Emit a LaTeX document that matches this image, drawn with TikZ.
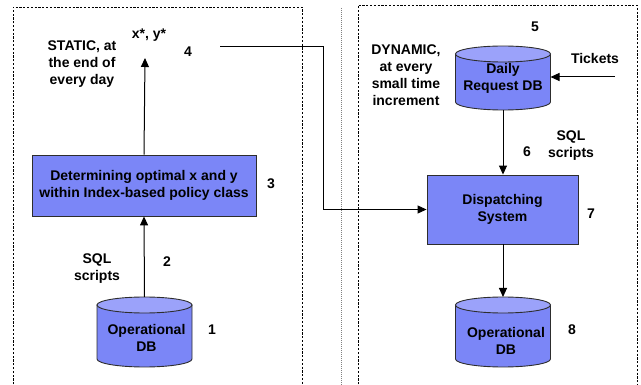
\documentclass[tikz,border=0pt]{standalone}
\usepackage{fontspec}
\setmainfont{Liberation Sans}
\usetikzlibrary{arrows.meta}
\definecolor{boxfill}{RGB}{123,134,247}
\definecolor{topfill}{RGB}{155,162,250}
\definecolor{edge}{RGB}{45,45,45}
\tikzset{
  lbl/.style={font=\fontsize{14}{17}\selectfont\bfseries, align=center, inner sep=0pt},
  procbox/.style={draw=edge, fill=boxfill, line width=0.9pt, align=center,
    font=\fontsize{14}{17}\selectfont\bfseries, inner sep=0pt},
  dbline/.style={draw=edge, line width=0.9pt},
  arr/.style={-{Triangle[length=9pt,width=8pt]}, line width=1pt, draw=black},
  frame/.style={dash pattern=on 2.2pt off 1.6pt, line width=0.8pt},
  sepline/.style={draw=gray, dash pattern=on 1pt off 1pt, line width=0.8pt},
}
% name, cx, cy, w, h, text, text dx, text dy
\newcommand\dbcyl[8]{%
  \draw[dbline, fill=boxfill] ({#2-#4/2},{#3-#5/2+8}) -- ({#2-#4/2},{#3+#5/2-8})
     arc[start angle=180, end angle=0, x radius=#4/2, y radius=8]
     -- ({#2+#4/2},{#3-#5/2+8}) -- cycle;
  \draw[dbline, fill=topfill] (#2,{#3-#5/2+8}) ellipse[x radius=#4/2, y radius=8];
  \node[inner sep=0pt, outer sep=0pt, minimum width=#4pt, minimum height=#5pt,
        label={[lbl, xshift=#7pt, yshift=-#8pt]center:#6}] (#1) at (#2,#3) {};
}
\begin{document}
\begin{tikzpicture}[x=1pt, y=-1pt]
\useasboundingbox (0,0) rectangle (641,385);

% frames
\draw[frame] (13,392) -- (13,7) -- (302,7) -- (302,392);
\draw[sepline] (341,8) -- (341,392);
\draw[frame] (358,392) -- (358,5) -- (637,5) -- (637,392);

% left side
\dbcyl{db1}{144.5}{332}{95}{70}{Operational\\DB}{2}{6}
\node[procbox, minimum width=224pt, minimum height=61pt] (opt) at (144,185.5)
  {Determining optimal x and y\\within Index-based policy class};
\node[lbl] (xy) at (149,35) {x*, y*};
\coordinate (xytip) at (145,58);
\coordinate (xyout) at (220,47);

\node[lbl] (n1) at (212,330) {1};
\node[lbl] (n2) at (167,262) {2};
\node[lbl] (n3) at (271,184) {3};
\node[lbl] (n4) at (188,52) {4};
\node[lbl] (sql1) at (97,269) {SQL\\scripts};
\node[lbl] (static) at (82,64) {STATIC, at\\the end of\\every day};

\draw[arr] (db1.north) -- (opt.south);
\draw[arr] (opt.north) -- (xytip);

% right side
\dbcyl{db5}{503}{78}{95}{64}{Daily\\Request DB}{0}{0}
\node[procbox, minimum width=151pt, minimum height=69pt] (disp) at (502.5,209.5)
  {Dispatching\\System};
\dbcyl{db8}{503}{332}{95}{70}{Operational\\DB}{3}{9}
\coordinate (tick) at (615,77);

\node[lbl] (n5) at (535,27) {5};
\node[lbl] (n6) at (527,152) {6};
\node[lbl] (n7) at (591,214) {7};
\node[lbl] (n8) at (572,330) {8};
\node[lbl] (tickets) at (595,58) {Tickets};
\node[lbl] (sql2) at (571,145.5) {SQL\\scripts};
\node[lbl] (dyn) at (406,75) {DYNAMIC,\\at every\\small time\\increment};

\draw[arr] (tick) -- (db5.east |- tick);
\draw[arr] (db5.south) -- (db5.south |- disp.north);
\draw[arr] (disp.south -| db8.north) -- (db8.north);
\draw[arr] (xyout) -- (323,47) |- (disp.west);
\end{tikzpicture}
\end{document}
